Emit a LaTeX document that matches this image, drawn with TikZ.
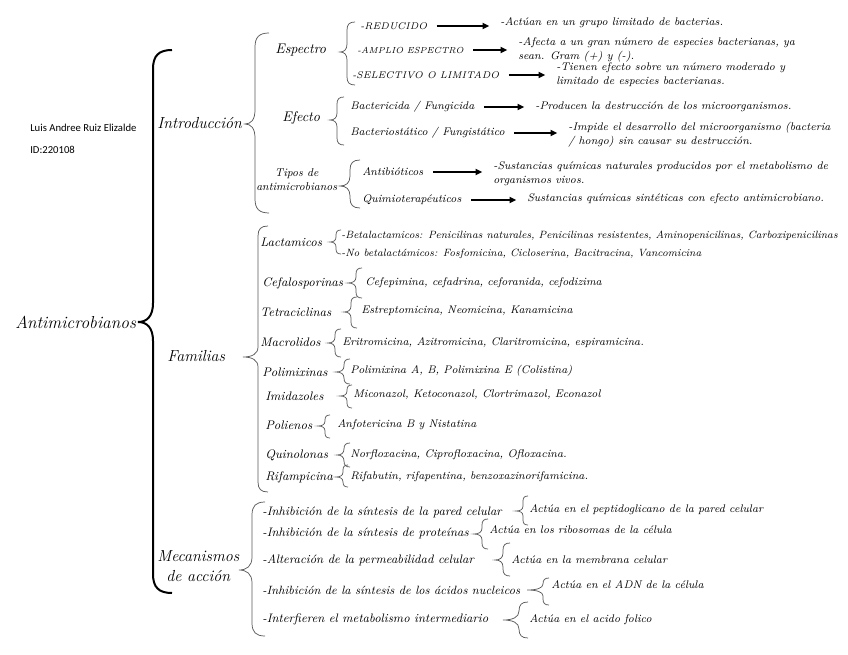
\documentclass[tikz,border=0pt]{standalone}
\usepackage{fontspec}
\newfontfamily\ausf{Carlito}
\usetikzlibrary{arrows.meta}
\tikzset{
  brc/.style={draw=black!65, line width=0.55pt},
  mainbrc/.style={draw=black, line width=1.5pt},
  tx/.style={anchor=west, inner sep=0pt, font=\fontsize{8.5}{10.5}\selectfont\itshape},
  txs/.style={tx, font=\fontsize{8.3}{10.5}\selectfont\itshape},
  lacx/.style={tx, font=\fontsize{7.9}{9.5}\selectfont\itshape},
  famx/.style={tx, font=\fontsize{9.3}{11}\selectfont\itshape},
  mecx/.style={tx, font=\fontsize{9.2}{11}\selectfont\itshape},
  capx/.style={tx, font=\fontsize{7.3}{9}\selectfont\itshape},
  capsm/.style={tx, font=\fontsize{6.6}{8}\selectfont\itshape},
  lvl1/.style={tx, font=\fontsize{12}{15}\selectfont\itshape},
  lvl2/.style={tx, font=\fontsize{10.5}{12}\selectfont\itshape},
  rootx/.style={tx, font=\fontsize{13}{15}\selectfont\itshape},
  aux/.style={anchor=west, inner sep=0pt, font=\fontsize{8}{10}\ausf},
  arr/.style={draw=black, line width=1.3pt, -{Triangle[length=5pt,width=4.5pt]}, shorten <=7pt, shorten >=8pt}
}
% #1 style, #2 xv, #3 ytop, #4 ybot, #5 xtip, #6 ytip, #7 e
\newcommand\cbr[7][brc]{%
  \draw[#1] ({#2+#7},#3) .. controls ({#2+0.3*#7},#3) and (#2,{#3+0.3*#7}) .. (#2,{#3+#7})
    -- (#2,{#6-#7}) .. controls (#2,{#6-0.3*#7}) and ({#5+0.6*(#2-#5)},#6) .. (#5,#6)
    .. controls ({#5+0.6*(#2-#5)},#6) and (#2,{#6+0.3*#7}) .. (#2,{#6+#7})
    -- (#2,{#4-#7}) .. controls (#2,{#4-0.3*#7}) and ({#2+0.3*#7},#4) .. ({#2+#7},#4);}
\begin{document}
\begin{tikzpicture}[x=0.75pt,y=-0.75pt]
\useasboundingbox (0,0) rectangle (848,655);
% author
\node[aux] (au1) at (30,128) {Luis Andree Ruiz Elizalde};
\node[aux] (au2) at (30,150) {ID:220108};
% root and level 1
\node[rootx] (root) at (15,322) {Antimicrobianos};
\node[lvl1] (intro) at (157,123) {Introducción};
\node[lvl1] (fam) at (167,356) {Familias};
\node[lvl1, align=center] (mec) at (157,566) {Mecanismos\\de acción};
% level 2 intro
\node[lvl2] (esp) at (275,50) {Espectro};
\node[lvl2] (efe) at (282,118) {Efecto};
\node[tx, align=center] (tip) at (256,180) {Tipos de\\antimicrobianos};
% Espectro
\node[capx] (red) at (360,26) {-REDUCIDO};
\node[capsm] (amp) at (357,50) {-AMPLIO ESPECTRO};
\node[capx] (sel) at (352,75) {-SELECTIVO O LIMITADO};
\node[txs] (redD) at (500,23) {-Actúan en un grupo limitado de bacterias.};
\node[txs, align=left] (ampD) at (518,50) {-Afecta a un gran número de especies bacterianas, ya\\sean. Gram (+) y (-).};
\node[txs, align=left] (selD) at (556,75) {-Tienen efecto sobre un número moderado y\\limitado de especies bacterianas.};
% Efecto
\node[txs] (bac) at (350,107) {Bactericida / Fungicida};
\node[txs] (bst) at (350,133) {Bacteriostático / Fungistático};
\node[txs] (bacD) at (535,107) {-Producen la destrucción de los microorganismos.};
\node[txs, align=left] (bstD) at (568,135) {-Impide el desarrollo del microorganismo (bacteria\\/ hongo) sin causar su destrucción.};
% Tipos
\node[txs] (ant) at (362,172) {Antibióticos};
\node[txs] (qui) at (362,200) {Quimioterapéuticos};
\node[txs, align=left] (antD) at (493,174) {-Sustancias químicas naturales producidos por el metabolismo de\\organismos vivos.};
\node[txs] (quiD) at (527,199) {Sustancias químicas sintéticas con efecto antimicrobiano.};
% arrows
\draw[arr] (red.east) -- (red.east -| redD.west);
\draw[arr] (amp.east) -- (amp.east -| ampD.west);
\draw[arr] (sel.east) -- (sel.east -| selD.west);
\draw[arr] (bac.east) -- (bac.east -| bacD.west);
\draw[arr] (bst.east) -- (bst.east -| bstD.west);
\draw[arr] (ant.east) -- (ant.east -| antD.west);
\draw[arr] (qui.east) -- (qui.east -| quiD.west);
% Familias
\node[famx] (lac) at (260,242) {Lactamicos};
\node[lacx] (lac1) at (341,236) {-Betalactamicos: Penicilinas naturales, Penicilinas resistentes, Aminopenicilinas, Carboxipenicilinas};
\node[lacx] (lac2) at (341,254) {-No betalactámicos: Fosfomicina, Cicloserina, Bacitracina, Vancomicina};
\node[famx] (cef) at (262,283) {Cefalosporinas};
\node[txs] (cef1) at (365,283) {Cefepimina, cefadrina, ceforanida, cefodizima};
\node[famx] (tet) at (260,312) {Tetraciclinas};
\node[txs] (tet1) at (361,311) {Estreptomicina, Neomicina, Kanamicina};
\node[famx] (mac) at (260,342) {Macrolidos};
\node[txs] (mac1) at (342,343) {Eritromicina, Azitromicina, Claritromicina, espiramicina.};
\node[famx] (pol) at (262,372) {Polimixinas};
\node[txs] (pol1) at (350,371) {Polimixina A, B, Polimixina E (Colistina)};
\node[famx] (imi) at (265,396) {Imidazoles};
\node[txs] (imi1) at (353,395) {Miconazol, Ketoconazol, Clortrimazol, Econazol};
\node[famx] (poli) at (265,425) {Polienos};
\node[txs] (poli1) at (337,425) {Anfotericina B y Nistatina};
\node[famx] (quin) at (265,455) {Quinolonas};
\node[txs] (quin1) at (350,455) {Norfloxacina, Ciprofloxacina, Ofloxacina.};
\node[famx] (rif) at (265,477) {Rifampicina};
\node[txs] (rif1) at (350,477) {Rifabutin, rifapentina, benzoxazinorifamicina.};
% Mecanismos
\node[mecx] (m1) at (262,512) {-Inhibición de la síntesis de la pared celular};
\node[txs] (m1a) at (529,510) {Actúa en el peptidoglicano de la pared celular};
\node[mecx] (m2) at (262,533) {-Inhibición de la síntesis de proteínas};
\node[txs] (m2a) at (489,530) {Actúa en los ribosomas de la célula};
\node[mecx] (m3) at (262,560) {-Alteración de la permeabilidad celular};
\node[txs] (m3a) at (511,560) {Actúa en la membrana celular};
\node[mecx, font=\fontsize{9}{11}\selectfont\itshape] (m4) at (262,590) {-Inhibición de la síntesis de los ácidos nucleicos};
\node[txs] (m4a) at (551,585) {Actúa en el ADN de la célula};
\node[mecx] (m5) at (262,619) {-Interfieren el metabolismo intermediario};
\node[txs] (m5a) at (529,620) {Actúa en el acido folico};
% braces
\cbr[mainbrc]{153}{50}{593}{138}{322}{19}
\cbr{255}{33}{213}{245}{124}{14}
\cbr{347}{22}{85}{340}{52}{8}
\cbr{337}{97}{145}{330}{120}{7}
\cbr{350}{160}{208}{340}{186}{10}
\cbr{258}{226}{492}{243}{357}{10}
\cbr{336}{230}{254}{330}{242}{5}
\cbr{356}{268}{298}{348}{283}{6}
\cbr{351}{297}{328}{344}{312}{6}
\cbr{335}{329}{357}{328}{343}{6}
\cbr{344}{359}{384}{336}{372}{6}
\cbr{347}{385}{408}{340}{396}{5}
\cbr{325}{415}{438}{318}{426}{5}
\cbr{344}{443}{467}{337}{455}{6}
\cbr{343}{465}{487}{336}{477}{5}
\cbr{252}{502}{636}{239}{570}{13}
\cbr{523}{496}{525}{516}{511}{5}
\cbr{482}{519}{549}{474}{534}{6}
\cbr{503}{543}{576}{495}{560}{7}
\cbr{543}{578}{605}{527}{590}{6}
\cbr{519}{602}{638}{503}{620}{9}
\end{tikzpicture}
\end{document}
